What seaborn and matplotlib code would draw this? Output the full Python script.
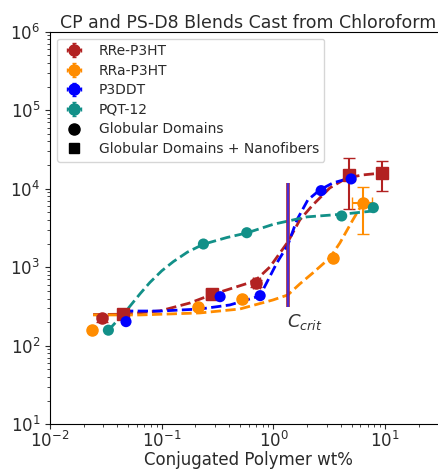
import numpy as np
import pandas as pd
import matplotlib
matplotlib.use("Agg")
import matplotlib.pyplot as plt
from matplotlib.lines import Line2D
import seaborn as sns

# ---------------- data ----------------
series_names = ["RRe-P3HT", "RRa-P3HT", "P3DDT", "PQT-12"]
series_colors = ["#b22222", "#ff8c00", "#0000ff", "#129088"]

# measured points (wt%, value)
rre_x = [0.029, 0.0453, 0.28, 0.70, 4.78, 9.44]
rre_y = [223, 253, 455, 623, 15000, 15770]
rre_yerr = [20, 25, 45, 70, 9500, 6500]
rre_xerr = [0.0, 0.0, 0.03, 0.05, 0.0, 0.0]
rre_marker = ["o", "s", "s", "o", "s", "s"]

rra_x = [0.0236, 0.21, 0.52, 3.44, 6.38]
rra_y = [161, 313, 389, 1300, 6530]
rra_yerr = [0, 0, 0, 0, 3900]
rra_xerr = [0, 0, 0, 0, 1.3]

p3ddt_x = [0.0479, 0.333, 0.76, 2.67, 4.95]
p3ddt_y = [203, 422, 435, 9460, 13330]

pqt_x = [0.0333, 0.236, 0.577, 4.08, 7.83]
pqt_y = [158, 1977, 2754, 4500, 5740]

# dashed fit curves
rre_fit_x = [0.0243, 0.045, 0.0964, 0.179, 0.275, 0.434, 0.683, 0.929, 1.345, 1.72, 2.25, 3.19, 4.54, 6.31, 9.52]
rre_fit_y = [250, 252, 278, 351, 444, 545, 669, 1009, 2100, 4006, 6220, 10230, 13740, 15000, 15890]

rra_fit_x = [0.0243, 0.0638, 0.22, 0.50, 0.988, 1.345, 1.72, 2.25, 3.19, 3.93, 5.13, 6.31]
rra_fit_y = [247, 247, 262, 294, 383, 444, 613, 846, 1313, 2040, 4006, 6590]

p3ddt_fit_x = [0.045, 0.0964, 0.22, 0.407, 0.755, 1.072, 1.345, 1.62, 2.03, 2.60, 3.40, 4.92]
p3ddt_fit_y = [277, 277, 294, 331, 431, 1135, 1923, 4006, 7200, 9660, 11860, 13740]

pqt_fit_x = [0.0333, 0.0485, 0.0640, 0.0783, 0.100, 0.127, 0.170, 0.236, 0.382, 0.577, 1.0, 1.99, 4.08, 7.83]
pqt_fit_y = [157, 283, 460, 640, 900, 1180, 1560, 1965, 2390, 2736, 3530, 4380, 4735, 5210]

ccrit_x = 1.345
ccrit_ymin, ccrit_ymax = 315, 11860

title = "CP and PS-D8 Blends Cast from Chloroform"
xlabel = "Conjugated Polymer wt%"
# ---------------------------------------

plt.rcParams["font.family"] = ["DejaVu Sans"]
text_color = "#2a2a2a"
plt.rcParams["text.color"] = text_color
plt.rcParams["axes.labelcolor"] = text_color
plt.rcParams["xtick.color"] = text_color
plt.rcParams["ytick.color"] = text_color

fig = plt.figure(figsize=(4.38, 4.71), dpi=100)
ax = fig.add_axes([50 / 438, 46.7 / 471, 396 / 438, 392.6 / 471])

fits = [(rre_fit_x, rre_fit_y), (rra_fit_x, rra_fit_y), (p3ddt_fit_x, p3ddt_fit_y), (pqt_fit_x, pqt_fit_y)]
for (fx, fy), c in zip(fits, series_colors):
    df = pd.DataFrame({"x": fx, "y": fy})
    sns.lineplot(data=df, x="x", y="y", ax=ax, color=c, linestyle="--", linewidth=2, sort=False, zorder=2)

# critical concentration line
ax.vlines(ccrit_x, ccrit_ymin, ccrit_ymax, color="#b22222", linewidth=2.6, zorder=3)
ax.vlines(ccrit_x * 1.01, ccrit_ymin, ccrit_ymax, color="#3030ff", linewidth=1.6, alpha=0.8, zorder=3)
ax.text(ccrit_x * 0.98, ccrit_ymin * 0.86, r"$C_{crit}$", fontsize=13, ha="left", va="top", color="#333333")

ms = 8
# RRe-P3HT
for x, y, ye, xe, m in zip(rre_x, rre_y, rre_yerr, rre_xerr, rre_marker):
    ax.errorbar(x, y, yerr=ye if ye else None, xerr=xe if xe else None, fmt=m, color=series_colors[0],
                markersize=ms, capsize=4, elinewidth=1.5, zorder=4)
# RRa-P3HT
for x, y, ye, xe in zip(rra_x, rra_y, rra_yerr, rra_xerr):
    ax.errorbar(x, y, yerr=ye if ye else None, xerr=xe if xe else None, fmt="o", color=series_colors[1],
                markersize=ms, capsize=4, elinewidth=1.5, zorder=4)
sns.scatterplot(x=p3ddt_x, y=p3ddt_y, ax=ax, color=series_colors[2], s=ms ** 2, edgecolor="none", zorder=5)
sns.scatterplot(x=pqt_x, y=pqt_y, ax=ax, color=series_colors[3], s=ms ** 2, edgecolor="none", zorder=5)

ax.set_xscale("log")
ax.set_yscale("log")
ax.set_xlim(1e-2, 35)
ax.set_ylim(1e1, 1e6)
ax.spines["right"].set_visible(False)
ax.tick_params(labelsize=12)
ax.tick_params(axis="x", pad=1)
ax.set_xlabel(xlabel, fontsize=12, labelpad=0)
ax.set_ylabel("")
ax.set_title(title, fontsize=12.5, pad=3)

handles = []
for c in series_colors:
    h = ax.errorbar([np.nan], [np.nan], yerr=[1], xerr=[1], fmt="o", color=c, markersize=ms,
                    capsize=1.5, elinewidth=1.5)
    handles.append(h)
handles.append(Line2D([], [], marker="o", color="black", linestyle="none", markersize=ms))
handles.append(Line2D([], [], marker="s", color="black", linestyle="none", markersize=ms - 1))
labels = series_names + ["Globular Domains", "Globular Domains + Nanofibers"]
ax.legend(handles, labels, loc="upper left", fontsize=10, labelspacing=0.4,
          borderaxespad=0.5, framealpha=0.8, handlelength=1.6, handletextpad=1.0)

fig.savefig("out.png", dpi=100)
